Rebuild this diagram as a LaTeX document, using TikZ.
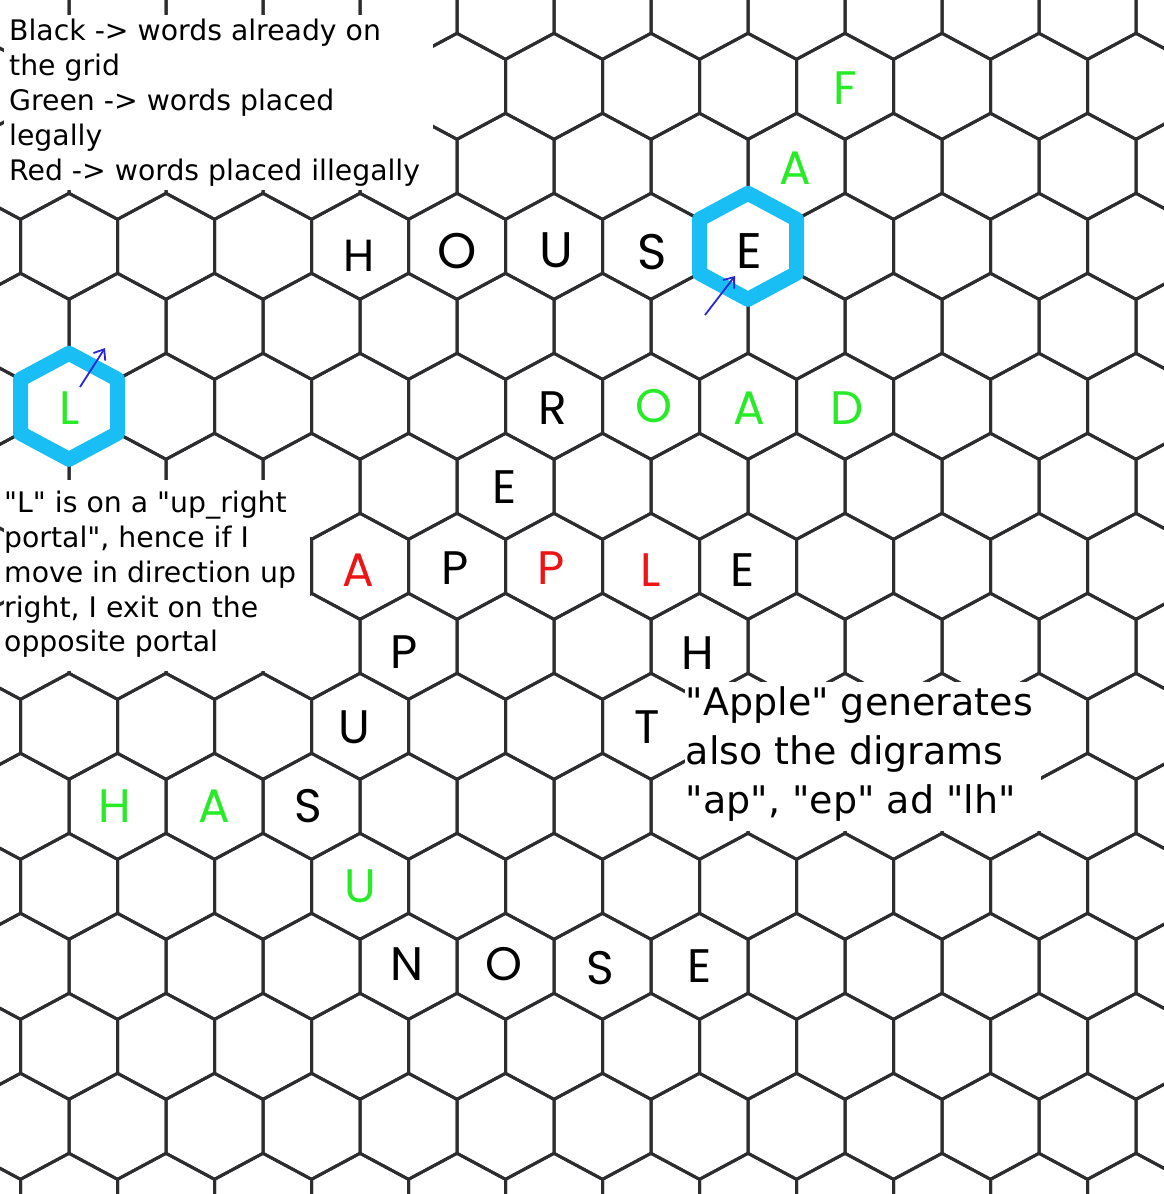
\documentclass[tikz,border=0pt]{standalone}
\usepackage{fontspec}
\setmainfont{DejaVu Sans}[Ligatures=TeXOff]
\newfontfamily\letterfont{Poppins}
\usetikzlibrary{arrows.meta}
\definecolor{gridline}{RGB}{45,45,48}
\definecolor{lgreen}{RGB}{40,235,40}
\definecolor{lred}{RGB}{237,20,20}
\definecolor{portal}{RGB}{25,190,245}
\definecolor{arrowblue}{RGB}{40,40,210}
\newcommand\hexpath[2]{(#1,#2-53) -- (#1+48.5,#2-27) -- (#1+48.5,#2+27) -- (#1,#2+53) -- (#1-48.5,#2+27) -- (#1-48.5,#2-27) -- cycle}
\tikzset{
  hexcell/.style={draw=gridline, line width=3pt},
  portalhex/.style={draw=portal, line width=15pt, line join=round},
  glet/.style={inner sep=0pt, anchor=center, text depth=0pt, text height=32.8pt,
    font=\letterfont\fontsize{47}{47}\selectfont},
  bigglet/.style={glet, text height=35pt, font=\letterfont\fontsize{50}{50}\selectfont},
  green/.style={text=lgreen},
  red/.style={text=lred},
  noteline/.style={inner sep=0pt, anchor=base west, font=\fontsize{28.3}{35}\selectfont},
  bignote/.style={inner sep=0pt, anchor=base west, font=\fontsize{38}{49}\selectfont},
  portalarrow/.style={draw=arrowblue, line width=1.8pt, -{Straight Barb[length=9pt,width=14pt]}},
  maskbox/.style={fill=white, draw=none}
}
\begin{document}
\begin{tikzpicture}[x=1pt,y=-1pt]
\path[use as bounding box] (0,0) rectangle (1164,1194);
\clip (0,0) rectangle (1164,1194);
\fill[white] (0,0) rectangle (1164,1194);
% hexagon grid
\foreach \r in {0,...,15} {
  \pgfmathsetmacro\yy{6.3+80*\r}
  \pgfmathsetmacro\xo{mod(\r,2)==0 ? 20.5 : 69}
  \foreach \k in {-1,...,12} {
    \pgfmathsetmacro\xx{\xo+97*\k}
    \draw[hexcell] \hexpath{\xx}{\yy};
  }
}
% white boxes for the notes
\fill[maskbox] (4,15) rectangle (433,190);
\fill[maskbox] (4,480) rectangle (309.5,671);
\fill[maskbox] (685,682) rectangle (1041,831);
% portal hexagons
\draw[portalhex] \hexpath{748}{246.3};
\draw[portalhex] \hexpath{69}{406.3};
% letters
\node[glet,green] (lF) at (845,88) {F};
\node[glet,green] (lA0) at (795,168) {A};
\node[glet,font=\letterfont\fontsize{45}{45}\selectfont,text height=31.5pt] (hH) at (359,256) {H};
\node[bigglet] (hO) at (457.5,251) {O};
\node[bigglet] (hU) at (556,250) {U};
\node[bigglet] (hS) at (652.5,252) {S};
\node[bigglet] (hE) at (749,251) {E};
\node[glet,green] (pL) at (70,408) {L};
\node[glet] (rR) at (553,408) {R};
\node[glet,green] (rO) at (654,406) {O};
\node[glet,green] (rA) at (749,408) {A};
\node[glet,green] (rD) at (847,408) {D};
\node[glet] (rE) at (505,487) {E};
\node[glet,red] (aA) at (358,570) {A};
\node[glet] (aP1) at (455,568) {P};
\node[glet,red] (aP2) at (551,568) {P};
\node[glet,red] (aL) at (651,570) {L};
\node[glet] (aE) at (743,570) {E};
\node[glet] (uP) at (404,652) {P};
\node[glet] (tH) at (698,653) {H};
\node[glet] (uU) at (354,727) {U};
\node[glet] (tT) at (647,727) {T};
\node[glet,green] (sH) at (115,806) {H};
\node[glet,green] (sA) at (214,806) {A};
\node[glet] (sS) at (308,806) {S};
\node[glet,green] (sU) at (360,886) {U};
\node[glet] (nN) at (407.5,964) {N};
\node[glet] (nO) at (504,964) {O};
\node[glet] (nS) at (600,968) {S};
\node[glet] (nE) at (700,966.5) {E};
% portal arrows
\coordinate (ea1) at (705,315);
\coordinate (ea2) at (735,276);
\coordinate (la1) at (80,387);
\coordinate (la2) at (105,348);
\draw[portalarrow] (ea1) -- (ea2);
\draw[portalarrow] (la1) -- (la2);
% notes
\node[noteline] (n1a) at (9,40.7) {Black -> words already on};
\node[noteline] (n1b) at (9,75.5) {the grid};
\node[noteline] (n1c) at (9,110.3) {Green -> words placed};
\node[noteline] (n1d) at (9,145.1) {legally};
\node[noteline] (n1e) at (9,180) {Red -> words placed illegally};
\node[noteline] (n2a) at (4,512.7) {"L" is on a "up\_right};
\node[noteline] (n2b) at (4,547.5) {portal", hence if I};
\node[noteline] (n2c) at (4,582.3) {move in direction up};
\node[noteline] (n2d) at (4,617) {right, I exit on the};
\node[noteline] (n2e) at (4,651.7) {opposite portal};
\node[bignote] (n3a) at (685.5,715) {"Apple" generates};
\node[bignote] (n3b) at (685.5,764.5) {also the digrams};
\node[bignote] (n3c) at (685.5,813.5) {"ap", "ep" ad "lh"};
\end{tikzpicture}
\end{document}
